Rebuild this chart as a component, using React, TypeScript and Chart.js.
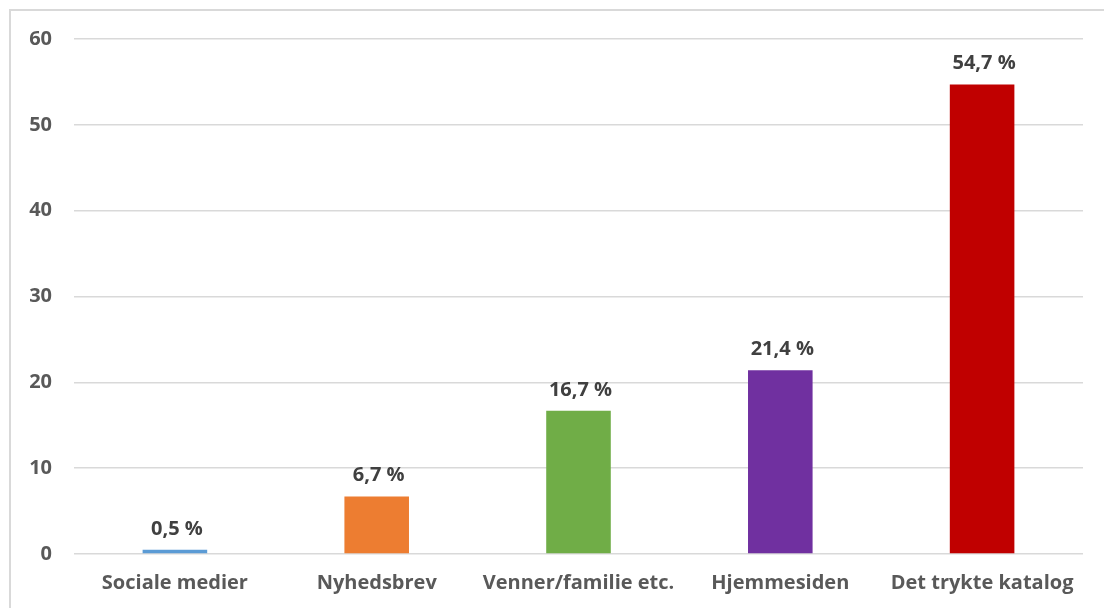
import React, { useEffect, useRef } from "react";
import { Chart, registerables } from "chart.js";

Chart.register(...registerables);

const categories = ["Sociale medier", "Nyhedsbrev", "Venner/familie etc.", "Hjemmesiden", "Det trykte katalog"];
const values = [0.5, 6.7, 16.7, 21.4, 54.7];
const valueLabels = ["0,5 %", "6,7 %", "16,7 %", "21,4 %", "54,7 %"];
const barColors = ["#5B9BD5", "#ED7D31", "#70AD47", "#7030A0", "#C00000"];

const FONT = "'Open Sans', sans-serif";

const labelPlugin = {
  id: "valueLabels",
  afterDatasetsDraw(chart: any) {
    const ctx = chart.ctx;
    const meta = chart.getDatasetMeta(0);
    ctx.save();
    ctx.font = `bold 20px ${FONT}`;
    ctx.fillStyle = "#404040";
    ctx.textAlign = "center";
    ctx.textBaseline = "alphabetic";
    meta.data.forEach((bar: any, i: number) => {
      ctx.fillText(valueLabels[i], bar.x + 2, bar.y - 15);
    });
    ctx.restore();
  },
};

export default function App() {
  const ref = useRef<HTMLCanvasElement | null>(null);
  useEffect(() => {
    if (!ref.current) return;
    const chart = new Chart(ref.current, {
      type: "bar",
      data: {
        labels: categories,
        datasets: [
          {
            data: values,
            backgroundColor: barColors,
            borderWidth: 0,
            barPercentage: 0.64,
            categoryPercentage: 0.5,
          },
        ],
      },
      options: {
        responsive: false,
        animation: false,
        maintainAspectRatio: false,
        layout: { padding: { top: 39, right: 21, left: 0, bottom: 0 } },
        plugins: { legend: { display: false }, tooltip: { enabled: false } },
        scales: {
          x: {
            grid: { display: false, drawTicks: false },
            border: { display: false },
            ticks: {
              color: "#595959",
              font: { family: FONT, size: 20, weight: "bold" },
              padding: 17,
              maxRotation: 0,
              autoSkip: false,
            },
            afterFit: (s: any) => {
              s.height = 54;
            },
          },
          y: {
            min: 0,
            max: 60,
            ticks: {
              stepSize: 10,
              color: "#595959",
              font: { family: FONT, size: 20, weight: "bold" },
              padding: 22,
            },
            grid: { color: "#d9d9d9", lineWidth: 1.5, drawTicks: false },
            border: { display: false },
            afterFit: (s: any) => {
              s.width = 74;
            },
          },
        },
      },
      plugins: [labelPlugin],
    });
    return () => chart.destroy();
  }, []);

  return (
    <div style={{ position: "fixed", left: 0, top: 0, width: 1104, height: 608, background: "#fff", overflow: "hidden" }}>
      <div
        style={{
          position: "absolute",
          left: 9,
          top: 9,
          width: 1200,
          height: 700,
          border: "2px solid #d9d9d9",
        }}
      />
      <canvas ref={ref} width={1104} height={608} style={{ position: "absolute", left: 0, top: 0, display: "block" }} />
    </div>
  );
}
